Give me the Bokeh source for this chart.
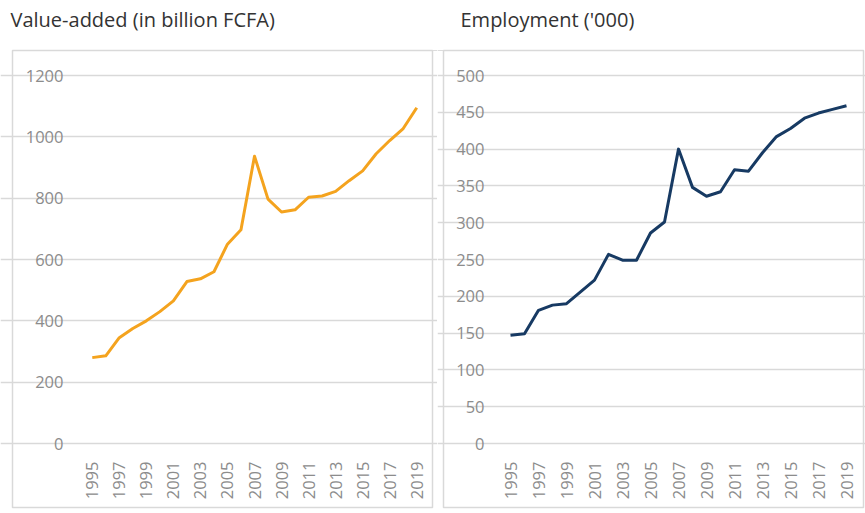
from math import pi
from bokeh.plotting import figure
from bokeh.layouts import row
from bokeh.models import Range1d, FixedTicker, ColumnDataSource, BoxAnnotation, Label
from bokeh.embed import file_html
from bokeh.resources import INLINE

# ---- data ----
years = list(range(1995, 2020))
value_added = [280, 286, 345, 375, 400, 430, 465, 528, 537, 560, 650, 697, 937,
               797, 755, 762, 803, 807, 822, 857, 889, 945, 988, 1027, 1095]
employment = [147, 149, 181, 188, 190, 206, 222, 257, 249, 249, 286, 301, 400,
              348, 336, 342, 372, 370, 395, 417, 428, 442, 449, 454, 459]
tick_years = years[::2]
tick_labels = [str(y) for y in tick_years]
va_ticks = [0, 200, 400, 600, 800, 1000, 1200]
emp_ticks = [0, 50, 100, 150, 200, 250, 300, 350, 400, 450, 500]

titles = ["Value-added (in billion FCFA)", "Employment ('000)"]
colors = ["#F4A31E", "#173A63"]

FONT = "Open Sans"
H = 510
BOX_TOP, BOX_BOTTOM = 50, 507      # panel box vertical extent, px
PLOT_TOP, PLOT_BOTTOM = 75, 443    # where top tick and 0 sit, px
TITLE_Y = 18.5                      # title centre, px
BOX_COLOR = "#d9d9d9"


def make(title, vals, color, yticks, width, box_l, box_r, area_l, area_r,
         title_x, y_standoff, gap_l, gap_r):
    # pixel layout -> data coordinates (frame covers the whole canvas)
    slot = (area_r - area_l) / len(years)
    x0 = years[0] - 0.5 - area_l / slot
    x1 = years[-1] + 0.5 + (width - area_r) / slot
    ppu = (PLOT_BOTTOM - PLOT_TOP) / yticks[-1]
    y1 = PLOT_BOTTOM / ppu
    y0 = -(H - PLOT_BOTTOM) / ppu

    def dx(px):
        return x0 + px / slot

    def dy(py):
        return (PLOT_BOTTOM - py) / ppu

    src = ColumnDataSource(dict(year=years, val=vals))
    p = figure(width=width, height=H, output_backend="svg", toolbar_location=None,
               x_range=Range1d(x0, x1), y_range=Range1d(y0, y1),
               min_border_left=0, min_border_right=0,
               min_border_top=0, min_border_bottom=0)
    p.outline_line_color = None
    p.background_fill_color = "white"
    p.border_fill_color = "white"

    p.xgrid.visible = False
    p.ygrid.grid_line_color = "#d9d9d9"
    p.ygrid.grid_line_width = 1.5
    p.ygrid.bounds = (years[0] - 0.5, years[-1] + 0.5)

    p.yaxis.ticker = FixedTicker(ticks=yticks)
    p.xaxis.ticker = FixedTicker(ticks=tick_years)
    p.xaxis.major_label_overrides = dict(zip(tick_years, tick_labels))
    p.xaxis.major_label_orientation = pi / 2
    p.yaxis.fixed_location = years[0] - 0.5
    p.xaxis.fixed_location = 0
    for ax in (p.xaxis[0], p.yaxis[0]):
        ax.axis_line_color = None
        ax.major_tick_line_color = None
        ax.minor_tick_line_color = None
        ax.major_label_text_color = "#8c8c8c"
        ax.major_label_text_font = FONT
        ax.major_label_text_font_size = "16.5px"
    p.yaxis.major_label_standoff = y_standoff
    p.xaxis.major_label_standoff = 12

    # panel box
    p.add_layout(BoxAnnotation(left=dx(box_l), right=dx(box_r),
                               top=dy(BOX_TOP), bottom=dy(BOX_BOTTOM),
                               fill_alpha=0, line_color=BOX_COLOR, line_alpha=1,
                               line_dash="solid", line_width=1.5,
                               level="underlay"))
    # top rule continuing across the gap between the two panels
    p.add_layout(BoxAnnotation(left=dx(gap_l), right=dx(gap_r),
                               top=dy(BOX_TOP), bottom=dy(BOX_TOP),
                               fill_alpha=0, line_color=BOX_COLOR, line_alpha=1,
                               line_dash="solid", line_width=0.75,
                               level="underlay"))

    p.add_layout(Label(x=dx(title_x), y=dy(TITLE_Y), text=title,
                       text_font=FONT, text_font_size="20px",
                       text_color="#333333", text_baseline="middle",
                       text_align="left"))

    p.line("year", "val", source=src, line_color=color, line_width=3,
           line_join="round")
    return p


p1 = make(titles[0], value_added, colors[0], va_ticks, 437,
          12, 432, 85, 423, 10, 16, 432, 437)
p2 = make(titles[1], employment, colors[1], emp_ticks, 428,
          6, 426, 66, 416, 23, 13, 0, 6)

layout = row(p1, p2)
open("out.html", "w").write(file_html(layout, INLINE))
